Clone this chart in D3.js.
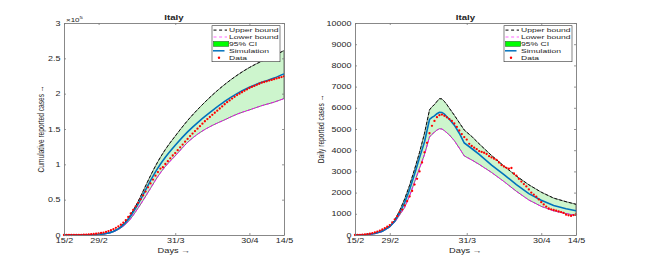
<!DOCTYPE html>
<html>
<head>
<meta charset="utf-8">
<script src="https://cdn.jsdelivr.net/npm/d3@7"></script>
<style>
  body { margin: 0; background: #fff; }
  svg { display: block; font-family: "Liberation Sans", Arial, Helvetica, sans-serif; }
</style>
</head>
<body>
<div id="chart"></div>
<script>
// x axis: days since 15/2
var xTickDays = [0, 14, 45, 75, 89];
var xTickLabels = ["15/2", "29/2", "31/3", "30/4", "14/5"];

var legendLabels = ["Upper bound", "Lower bound", "95% CI", "Simulation", "Data"];

// left panel: cumulative cases
var cumTicks = [0, 50000, 100000, 150000, 200000, 250000, 300000];
var cumTickLabels = ["0", "0.5", "1", "1.5", "2", "2.5", "3"];
var cumLineDays = [0, 5, 10, 14, 17, 20, 23, 26, 29, 32, 35, 38, 41, 45, 50, 55, 60, 65, 70, 75, 80, 85, 89];
var cumSim   = [0, 0, 200, 800, 2000, 5000, 11000, 22000, 38000, 57000, 77000, 95000, 110000, 127000, 146000, 162000, 176000, 189000, 200000, 209000, 216000, 222000, 228000];
var cumUpper = [0, 0, 200, 900, 2300, 5500, 12000, 24000, 41000, 62000, 84000, 104000, 121000, 140000, 162000, 181000, 198000, 213000, 226000, 237000, 246000, 254000, 261000];
var cumLower = [0, 0, 200, 700, 1800, 4500, 10000, 19000, 33000, 49000, 66000, 83000, 97000, 112000, 131000, 145000, 155000, 163000, 171000, 177000, 183000, 188000, 193000];
// one value per day, 15/2 .. 14/5
var cumData = [0, 0, 0, 0, 100, 100, 200, 300, 400, 600, 800, 1100, 1400, 1800, 2200,
  2800, 3500, 4400, 5500, 6800, 8300, 10100, 12100, 14500, 17500, 21000, 25500, 30500, 35500, 40500, 45500,
  50500, 56000, 61500, 67500, 73000, 78500, 84000, 89000, 94000, 96000, 100500, 104500, 108500, 112500,
  116000, 120000, 124000, 128000, 132000, 136000, 140000, 143500, 147000, 150500, 154000, 157500, 161000, 164000,
  167000, 170000, 173000, 176000, 179000, 182000, 185000, 188000, 190500, 193000, 195500, 198000, 200000, 202000,
  204000, 206000, 208000, 209500, 211000, 212500, 214000, 215500, 216500, 217500, 218500, 219500, 220500, 221500,
  222500, 223500, 224500];

// right panel: daily cases
var dailyTicks = [0, 1000, 2000, 3000, 4000, 5000, 6000, 7000, 8000, 9000, 10000];
var dailyTickLabels = ["0", "1000", "2000", "3000", "4000", "5000", "6000", "7000", "8000", "9000", "10000"];
var dailyLineDays = [0, 4, 8, 11, 14, 16, 18, 20, 22, 24, 26, 28, 30, 31, 32, 33, 34, 35, 36, 37, 38, 40, 42, 44, 47, 50, 55, 60, 65, 70, 75, 80, 85, 89];
var dailySim   = [0, 15, 70, 180, 400, 650, 1050, 1530, 2150, 2880, 3650, 4400, 5450, 5550, 5620, 5720, 5790, 5780, 5700, 5580, 5460, 5180, 4800, 4340, 4080, 3800, 3300, 2850, 2380, 1950, 1640, 1390, 1240, 1140];
var dailyUpper = [0, 20, 80, 200, 430, 700, 1150, 1700, 2350, 3100, 3900, 4800, 5900, 6050, 6150, 6300, 6430, 6420, 6300, 6150, 5980, 5650, 5300, 4950, 4650, 4300, 3750, 3250, 2780, 2370, 2020, 1740, 1570, 1450];
var dailyLower = [0, 10, 60, 160, 370, 600, 950, 1300, 1850, 2500, 3150, 3800, 4620, 4750, 4850, 4950, 5010, 5000, 4920, 4820, 4720, 4450, 4100, 3730, 3540, 3330, 2950, 2520, 2060, 1650, 1350, 1140, 1010, 920];
var dailyData = [0, 5, 10, 15, 25, 40, 60, 90, 120, 160, 210, 260, 320, 390, 470,
  600, 740, 890, 1080, 1200, 1400, 1600, 1820, 2080, 2380, 2650, 3000, 3420, 3900, 4350, 4800,
  5150, 5380, 5560, 5650, 5680, 5620, 5550, 5470, 5380, 5260, 5100, 4930, 4760, 4620,
  4500, 4300, 4200, 4120, 4050, 3960, 3920, 3880, 3820, 3720, 3660, 3600, 3540, 3420,
  3300, 3230, 3170, 3130, 3160, 2900, 2800, 2650, 2520, 2400, 2290, 2150, 2000, 1900, 1810, 1680,
  1550, 1440, 1340, 1250, 1210, 1180, 1150, 1110, 1080, 1040, 960, 930, 900, 940, 970];

var SX = 1.38;   // the picture is stretched sideways, text too
var plotTop = 23, plotBottom = 235;

var svg = d3.select("#chart").append("svg")
    .attr("width", 654)
    .attr("height", 261);

function hText(g, tx, ty, str, size, anchor, weight) {
  return g.append("text")
      .attr("transform", "translate(" + tx + "," + ty + ") scale(" + SX + ",1)")
      .attr("text-anchor", anchor || "middle")
      .attr("font-size", size)
      .attr("font-weight", weight || "normal")
      .attr("fill", "#262626")
      .text(str);
}

function drawPanel(p) {
  var x = d3.scaleLinear().domain([0, 89]).range([p.left, p.right]);
  var y = d3.scaleLinear().domain([0, p.yMax]).range([plotBottom, plotTop]);
  var g = svg.append("g");

  var rows = p.lineDays.map(function(d, i) {
    return {day: d, sim: p.sim[i], hi: p.upper[i], lo: p.lower[i]};
  });

  // 95% CI band
  g.append("path").datum(rows)
      .attr("d", d3.area()
        .x(function(d) { return x(d.day); })
        .y0(function(d) { return y(d.lo); })
        .y1(function(d) { return y(d.hi); })
        .curve(p.curve))
      .attr("fill", "#cdf5cd")
      .attr("stroke", "#222")
      .attr("stroke-width", 0.6);

  var line = function(key) {
    return d3.line()
      .x(function(d) { return x(d.day); })
      .y(function(d) { return y(d[key]); })
      .curve(p.curve);
  };

  g.append("path").datum(rows).attr("d", line("hi"))
      .attr("fill", "none").attr("stroke", "#000").attr("stroke-width", 0.9)
      .attr("stroke-dasharray", "3,2");
  g.append("path").datum(rows).attr("d", line("lo"))
      .attr("fill", "none").attr("stroke", "#ff00ff").attr("stroke-width", 0.9)
      .attr("stroke-dasharray", "3,2");
  g.append("path").datum(rows).attr("d", line("sim"))
      .attr("fill", "none").attr("stroke", "#0072bd").attr("stroke-width", 1.6);

  g.selectAll(".dot")
    .data(p.data)
    .enter().append("circle")
      .attr("class", "dot")
      .attr("cx", function(d, i) { return x(i); })
      .attr("cy", function(d) { return y(d); })
      .attr("r", 1.15)
      .attr("fill", "#ff0000");

  // axes, ticks pointing inward on all four sides
  var axisColor = "#7a7a7a";
  var ax = [
    g.append("g").attr("transform", "translate(0," + plotBottom + ")")
      .call(d3.axisBottom(x).tickValues(xTickDays)
        .tickFormat(function(d, i) { return xTickLabels[i]; })
        .tickSizeInner(-2).tickSizeOuter(0).tickPadding(3)),
    g.append("g").attr("transform", "translate(0," + plotTop + ")")
      .call(d3.axisTop(x).tickValues(xTickDays).tickFormat("")
        .tickSizeInner(-2).tickSizeOuter(0)),
    g.append("g").attr("transform", "translate(" + p.left + ",0)")
      .call(d3.axisLeft(y).tickValues(p.yTicks)
        .tickFormat(function(d, i) { return p.yTickLabels[i]; })
        .tickSizeInner(-2).tickSizeOuter(0).tickPadding(2.6)),
    g.append("g").attr("transform", "translate(" + p.right + ",0)")
      .call(d3.axisRight(y).tickValues(p.yTicks).tickFormat("")
        .tickSizeInner(-2).tickSizeOuter(0))
  ];
  ax.forEach(function(a) {
    a.attr("font-family", null).attr("font-size", null);
    a.select(".domain").attr("stroke", axisColor).attr("stroke-width", 0.9);
    a.selectAll(".tick line").attr("stroke", axisColor).attr("stroke-width", 0.8);
    a.selectAll(".tick text")
      .attr("font-size", 6.5)
      .attr("fill", "#262626")
      .attr("transform", "scale(" + SX + ",1)");
  });

  if (p.exponent) {
    var ex = hText(g, p.left + 2, plotTop - 1.5, "×10", 5.8, "start");
    ex.append("tspan").attr("font-size", 4.4).attr("dy", -3).text("5");
  }

  // title and labels
  var mid = (p.left + p.right) / 2;
  hText(g, mid, 20, "Italy", 7, "middle", "bold");
  hText(g, mid, 252.5, "Days \u2192", 6.7, "middle");
  g.append("text")
      .attr("transform", "translate(" + p.yLabelX + "," + ((plotTop + plotBottom) / 2) + ") scale(" + SX + ",1) rotate(-90)")
      .attr("text-anchor", "middle")
      .attr("font-size", 6.6)
      .attr("fill", "#262626")
      .text(p.yLabel);

  // legend
  var lx = p.right - 72, ly = plotTop + 2.7;
  var lg = g.append("g");
  lg.append("rect")
      .attr("x", lx).attr("y", ly).attr("width", 68).attr("height", 36)
      .attr("fill", "#fff").attr("stroke", "#333").attr("stroke-width", 0.6);
  legendLabels.forEach(function(lab, i) {
    var ry = ly + 4.4 + i * 6.9;
    if (i === 0 || i === 1) {
      lg.append("line")
        .attr("x1", lx + 1.5).attr("x2", lx + 15).attr("y1", ry).attr("y2", ry)
        .attr("stroke", i === 0 ? "#000" : "#ff66ff").attr("stroke-width", 1)
        .attr("stroke-dasharray", "3,2.6");
    } else if (i === 2) {
      lg.append("rect")
        .attr("x", lx + 1.3).attr("y", ry - 2.6).attr("width", 15.5).attr("height", 5.2)
        .attr("fill", "#00ff00").attr("stroke", "#333").attr("stroke-width", 0.4);
    } else if (i === 3) {
      lg.append("line")
        .attr("x1", lx + 1).attr("x2", lx + 12.5).attr("y1", ry).attr("y2", ry)
        .attr("stroke", "#0072bd").attr("stroke-width", 1.5);
    } else {
      lg.append("circle")
        .attr("cx", lx + 7).attr("cy", ry).attr("r", 1.2).attr("fill", "#ff0000");
    }
    hText(lg, lx + 17, ry + 2.2, lab, 6.2, "start");
  });
}

drawPanel({
  left: 64, right: 284, yMax: 300000,
  yTicks: cumTicks, yTickLabels: cumTickLabels,
  lineDays: cumLineDays, sim: cumSim, upper: cumUpper, lower: cumLower, data: cumData,
  curve: d3.curveMonotoneX, exponent: true,
  yLabel: "Cumulative reported cases \u2192", yLabelX: 44
});

drawPanel({
  left: 355, right: 576, yMax: 10000,
  yTicks: dailyTicks, yTickLabels: dailyTickLabels,
  lineDays: dailyLineDays, sim: dailySim, upper: dailyUpper, lower: dailyLower, data: dailyData,
  curve: d3.curveLinear, exponent: false,
  yLabel: "Daily reported cases \u2192", yLabelX: 323.5
});
</script>
</body>
</html>
